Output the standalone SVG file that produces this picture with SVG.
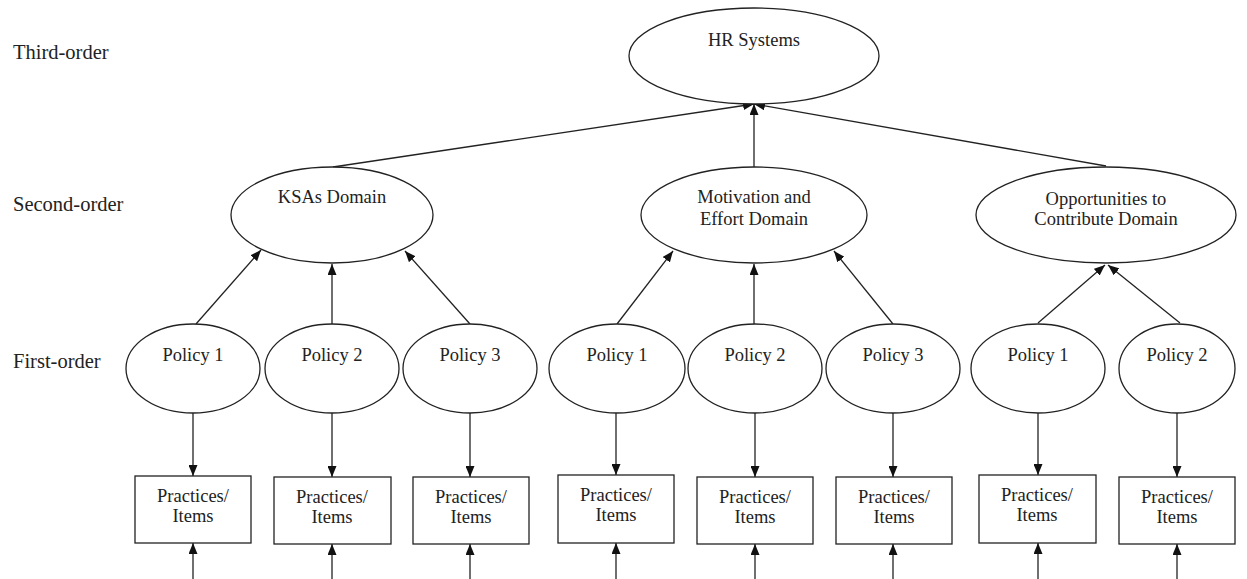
<svg xmlns="http://www.w3.org/2000/svg" width="1247" height="579" viewBox="0 0 1247 579">
<style>
.n{fill:#fff;stroke:#222;stroke-width:1.3}
.t{font-family:'Liberation Serif','Tinos','Times New Roman','DejaVu Serif',serif;font-size:18.5px;fill:#222;text-anchor:middle}
.l{font-family:'Liberation Serif','Tinos','Times New Roman','DejaVu Serif',serif;font-size:20.5px;fill:#222}
.c line{stroke:#222;stroke-width:1.3;marker-end:url(#ah)}
</style>
<defs>
<marker id="ah" markerUnits="userSpaceOnUse" markerWidth="11" markerHeight="9" refX="11" refY="4.5" orient="auto" viewBox="0 0 11 9">
<path d="M0,0 L11,4.5 L0,9 z" fill="#111"/>
</marker>
</defs>
<rect width="1247" height="579" fill="#fff"/>
<g id="labels">
<text class="l" x="13" y="59">Third-order</text>
<text class="l" x="13" y="211">Second-order</text>
<text class="l" x="13" y="368">First-order</text>
</g>
<g class="c" id="connectors">
<line x1="333" y1="167" x2="754" y2="104"/>
<line x1="754" y1="167" x2="754" y2="104"/>
<line x1="1106" y1="166" x2="754" y2="104"/>
<line x1="196" y1="324" x2="261" y2="250"/>
<line x1="332" y1="324" x2="332" y2="264"/>
<line x1="470" y1="324" x2="405" y2="251"/>
<line x1="617" y1="324" x2="673" y2="251"/>
<line x1="754" y1="324" x2="754" y2="264"/>
<line x1="893" y1="324" x2="834" y2="251"/>
<line x1="1038" y1="323" x2="1105" y2="265"/>
<line x1="1180" y1="323" x2="1108" y2="265"/>
<line x1="193" y1="413" x2="193" y2="476"/>
<line x1="332" y1="413" x2="332" y2="477"/>
<line x1="470" y1="413" x2="470" y2="477"/>
<line x1="616" y1="413" x2="616" y2="475"/>
<line x1="755" y1="413" x2="755" y2="477"/>
<line x1="893" y1="413" x2="893" y2="477"/>
<line x1="1038" y1="413" x2="1038" y2="475"/>
<line x1="1177" y1="413" x2="1177" y2="477"/>
<line x1="193" y1="579" x2="193" y2="543"/>
<line x1="332" y1="579" x2="332" y2="544"/>
<line x1="470" y1="579" x2="470" y2="544"/>
<line x1="616" y1="579" x2="616" y2="543"/>
<line x1="755" y1="579" x2="755" y2="544"/>
<line x1="893" y1="579" x2="893" y2="544"/>
<line x1="1038" y1="579" x2="1038" y2="543"/>
<line x1="1177" y1="579" x2="1177" y2="544"/>
</g>
<g id="hr"><ellipse class="n" cx="754" cy="56" rx="125" ry="48"/><text class="t" x="754" y="46">HR Systems</text></g>
<g id="ksa"><ellipse class="n" cx="332" cy="215" rx="101" ry="48"/><text class="t" x="332" y="203">KSAs Domain</text></g>
<g id="mot"><ellipse class="n" cx="754" cy="215" rx="113" ry="48"/><text class="t" x="754" y="203">Motivation and</text><text class="t" x="754" y="225">Effort Domain</text></g>
<g id="opp"><ellipse class="n" cx="1106" cy="215" rx="130" ry="48"/><text class="t" x="1106" y="205">Opportunities to</text><text class="t" x="1106" y="225">Contribute Domain</text></g>
<g id="k1"><ellipse class="n" cx="193" cy="368.5" rx="67" ry="44.5"/><text class="t" x="193" y="361">Policy 1</text></g>
<g id="k2"><ellipse class="n" cx="332" cy="368.5" rx="67" ry="44.5"/><text class="t" x="332" y="361">Policy 2</text></g>
<g id="k3"><ellipse class="n" cx="470" cy="368.5" rx="67" ry="44.5"/><text class="t" x="470" y="361">Policy 3</text></g>
<g id="m1"><ellipse class="n" cx="617" cy="368.5" rx="68" ry="44.5"/><text class="t" x="617" y="361">Policy 1</text></g>
<g id="m2"><ellipse class="n" cx="755" cy="368.5" rx="67" ry="44.5"/><text class="t" x="755" y="361">Policy 2</text></g>
<g id="m3"><ellipse class="n" cx="893" cy="368.5" rx="67" ry="44.5"/><text class="t" x="893" y="361">Policy 3</text></g>
<g id="o1"><ellipse class="n" cx="1038" cy="368.5" rx="67" ry="44.5"/><text class="t" x="1038" y="361">Policy 1</text></g>
<g id="o2"><ellipse class="n" cx="1177" cy="368.5" rx="58" ry="44.5"/><text class="t" x="1177" y="361">Policy 2</text></g>
<g id="bk1"><rect class="n" x="135" y="476" width="116" height="67"/><text class="t" x="193" y="502">Practices/</text><text class="t" x="193" y="522">Items</text></g>
<g id="bk2"><rect class="n" x="274" y="477" width="117" height="67"/><text class="t" x="332" y="503">Practices/</text><text class="t" x="332" y="523">Items</text></g>
<g id="bk3"><rect class="n" x="413" y="477" width="116" height="67"/><text class="t" x="471" y="503">Practices/</text><text class="t" x="471" y="523">Items</text></g>
<g id="bm1"><rect class="n" x="558" y="475" width="116" height="68"/><text class="t" x="616" y="501">Practices/</text><text class="t" x="616" y="521">Items</text></g>
<g id="bm2"><rect class="n" x="697" y="477" width="116" height="67"/><text class="t" x="755" y="503">Practices/</text><text class="t" x="755" y="523">Items</text></g>
<g id="bm3"><rect class="n" x="836" y="477" width="116" height="67"/><text class="t" x="894" y="503">Practices/</text><text class="t" x="894" y="523">Items</text></g>
<g id="bo1"><rect class="n" x="979" y="475" width="117" height="68"/><text class="t" x="1037" y="501">Practices/</text><text class="t" x="1037" y="521">Items</text></g>
<g id="bo2"><rect class="n" x="1119" y="477" width="116" height="67"/><text class="t" x="1177" y="503">Practices/</text><text class="t" x="1177" y="523">Items</text></g>
</svg>
